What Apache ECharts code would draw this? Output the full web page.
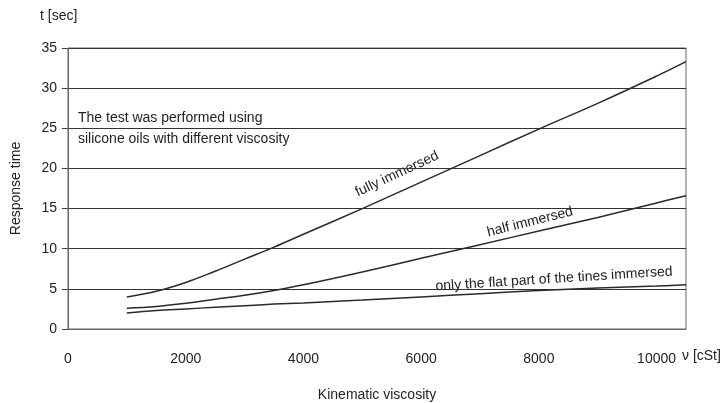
<!DOCTYPE html>
<html>
<head>
<meta charset="utf-8">
<script src="https://cdn.jsdelivr.net/npm/echarts@6/dist/echarts.min.js"></script>
<style>html,body{margin:0;padding:0;background:#fff}#c{width:724px;height:403px}</style>
</head>
<body>
<div id="c"></div>
<script>
var viscosity = [1000, 1500, 2000, 2500, 3000, 3500, 4000, 5000, 6000, 7000, 8000, 9000, 10000, 10500];
var fullyImmersed = [4.0, 4.7, 5.8, 7.2, 8.7, 10.2, 11.8, 15.0, 18.3, 21.6, 24.9, 28.1, 31.5, 33.3];
var halfImmersed = [2.6, 2.8, 3.2, 3.7, 4.2, 4.8, 5.5, 7.1, 8.8, 10.5, 12.2, 13.9, 15.7, 16.6];
var flatPartImmersed = [2.0, 2.3, 2.5, 2.7, 2.9, 3.1, 3.25, 3.6, 4.0, 4.4, 4.8, 5.1, 5.35, 5.5];
var xTicks = [0, 2000, 4000, 6000, 8000, 10000];
var yTicks = [0, 5, 10, 15, 20, 25, 30, 35];

function pairs(ys) { return viscosity.map(function (x, i) { return [x, ys[i]]; }); }
var font = 'Liberation Sans, Arial, sans-serif';
var chart = echarts.init(document.getElementById('c'));
function lineSeries(name, ys) {
  return { name: name, type: 'line', data: pairs(ys), smooth: 0.4, showSymbol: false,
    lineStyle: { color: '#2a2a2a', width: 1.5 }, animation: false };
}
chart.setOption({
  animation: false,
  grid: { left: 68, right: 38, top: 48, bottom: 74, show: true, borderColor: '#666', borderWidth: 1,
    containLabel: false, outerBoundsMode: 'none' },
  xAxis: {
    type: 'value', min: 0, max: 10500, interval: 2000,
    name: 'Kinematic viscosity', nameLocation: 'middle', nameGap: 59,
    nameTextStyle: { fontFamily: font, fontSize: 14, color: '#222' },
    axisLine: { show: true, lineStyle: { color: '#666' } },
    axisTick: { show: false }, splitLine: { show: false },
    axisLabel: { margin: 23, showMaxLabel: false, fontFamily: font, fontSize: 14, color: '#222',
      formatter: function (v) { return xTicks.indexOf(v) >= 0 ? String(v) : ''; } }
  },
  yAxis: {
    type: 'value', min: 0, max: 35, interval: 5,
    name: 'Response time', nameLocation: 'middle', nameGap: 45,
    nameTextStyle: { fontFamily: font, fontSize: 14, color: '#222' },
    axisLine: { show: true, lineStyle: { color: '#666' } },
    axisTick: { show: true, length: 6, lineStyle: { color: '#444' } },
    splitLine: { show: true, lineStyle: { color: '#333', width: 1 } },
    axisLabel: { margin: 11, fontFamily: font, fontSize: 14, color: '#222',
      formatter: function (v) { return yTicks.indexOf(v) >= 0 ? String(v) : ''; } }
  },
  series: [
    lineSeries('fully immersed', fullyImmersed),
    lineSeries('half immersed', halfImmersed),
    lineSeries('only the flat part of the tines immersed', flatPartImmersed)
  ],
  graphic: [
    { type: 'text', left: 40, top: 9, style: { text: 't [sec]', font: '14px ' + font, fill: '#222' } },
    { type: 'text', left: 682, top: 349, style: { text: 'ν [cSt]', font: '14px ' + font, fill: '#222' } },
    { type: 'text', left: 78, top: 108, style: { text: 'The test was performed using\nsilicone oils with different viscosity', font: '14px ' + font, fill: '#222', lineHeight: 21 } },
    { type: 'text', x: 397, y: 174, rotation: 25 * Math.PI / 180, style: { text: 'fully immersed', font: '14px ' + font, fill: '#222', align: 'center', verticalAlign: 'middle' } },
    { type: 'text', x: 530, y: 222, rotation: 14 * Math.PI / 180, style: { text: 'half immersed', font: '14px ' + font, fill: '#222', align: 'center', verticalAlign: 'middle' } },
    { type: 'text', x: 554, y: 279, rotation: 3.6 * Math.PI / 180, style: { text: 'only the flat part of the tines immersed', font: '14px ' + font, fill: '#222', align: 'center', verticalAlign: 'middle' } }
  ]
});
</script>
</body>
</html>
